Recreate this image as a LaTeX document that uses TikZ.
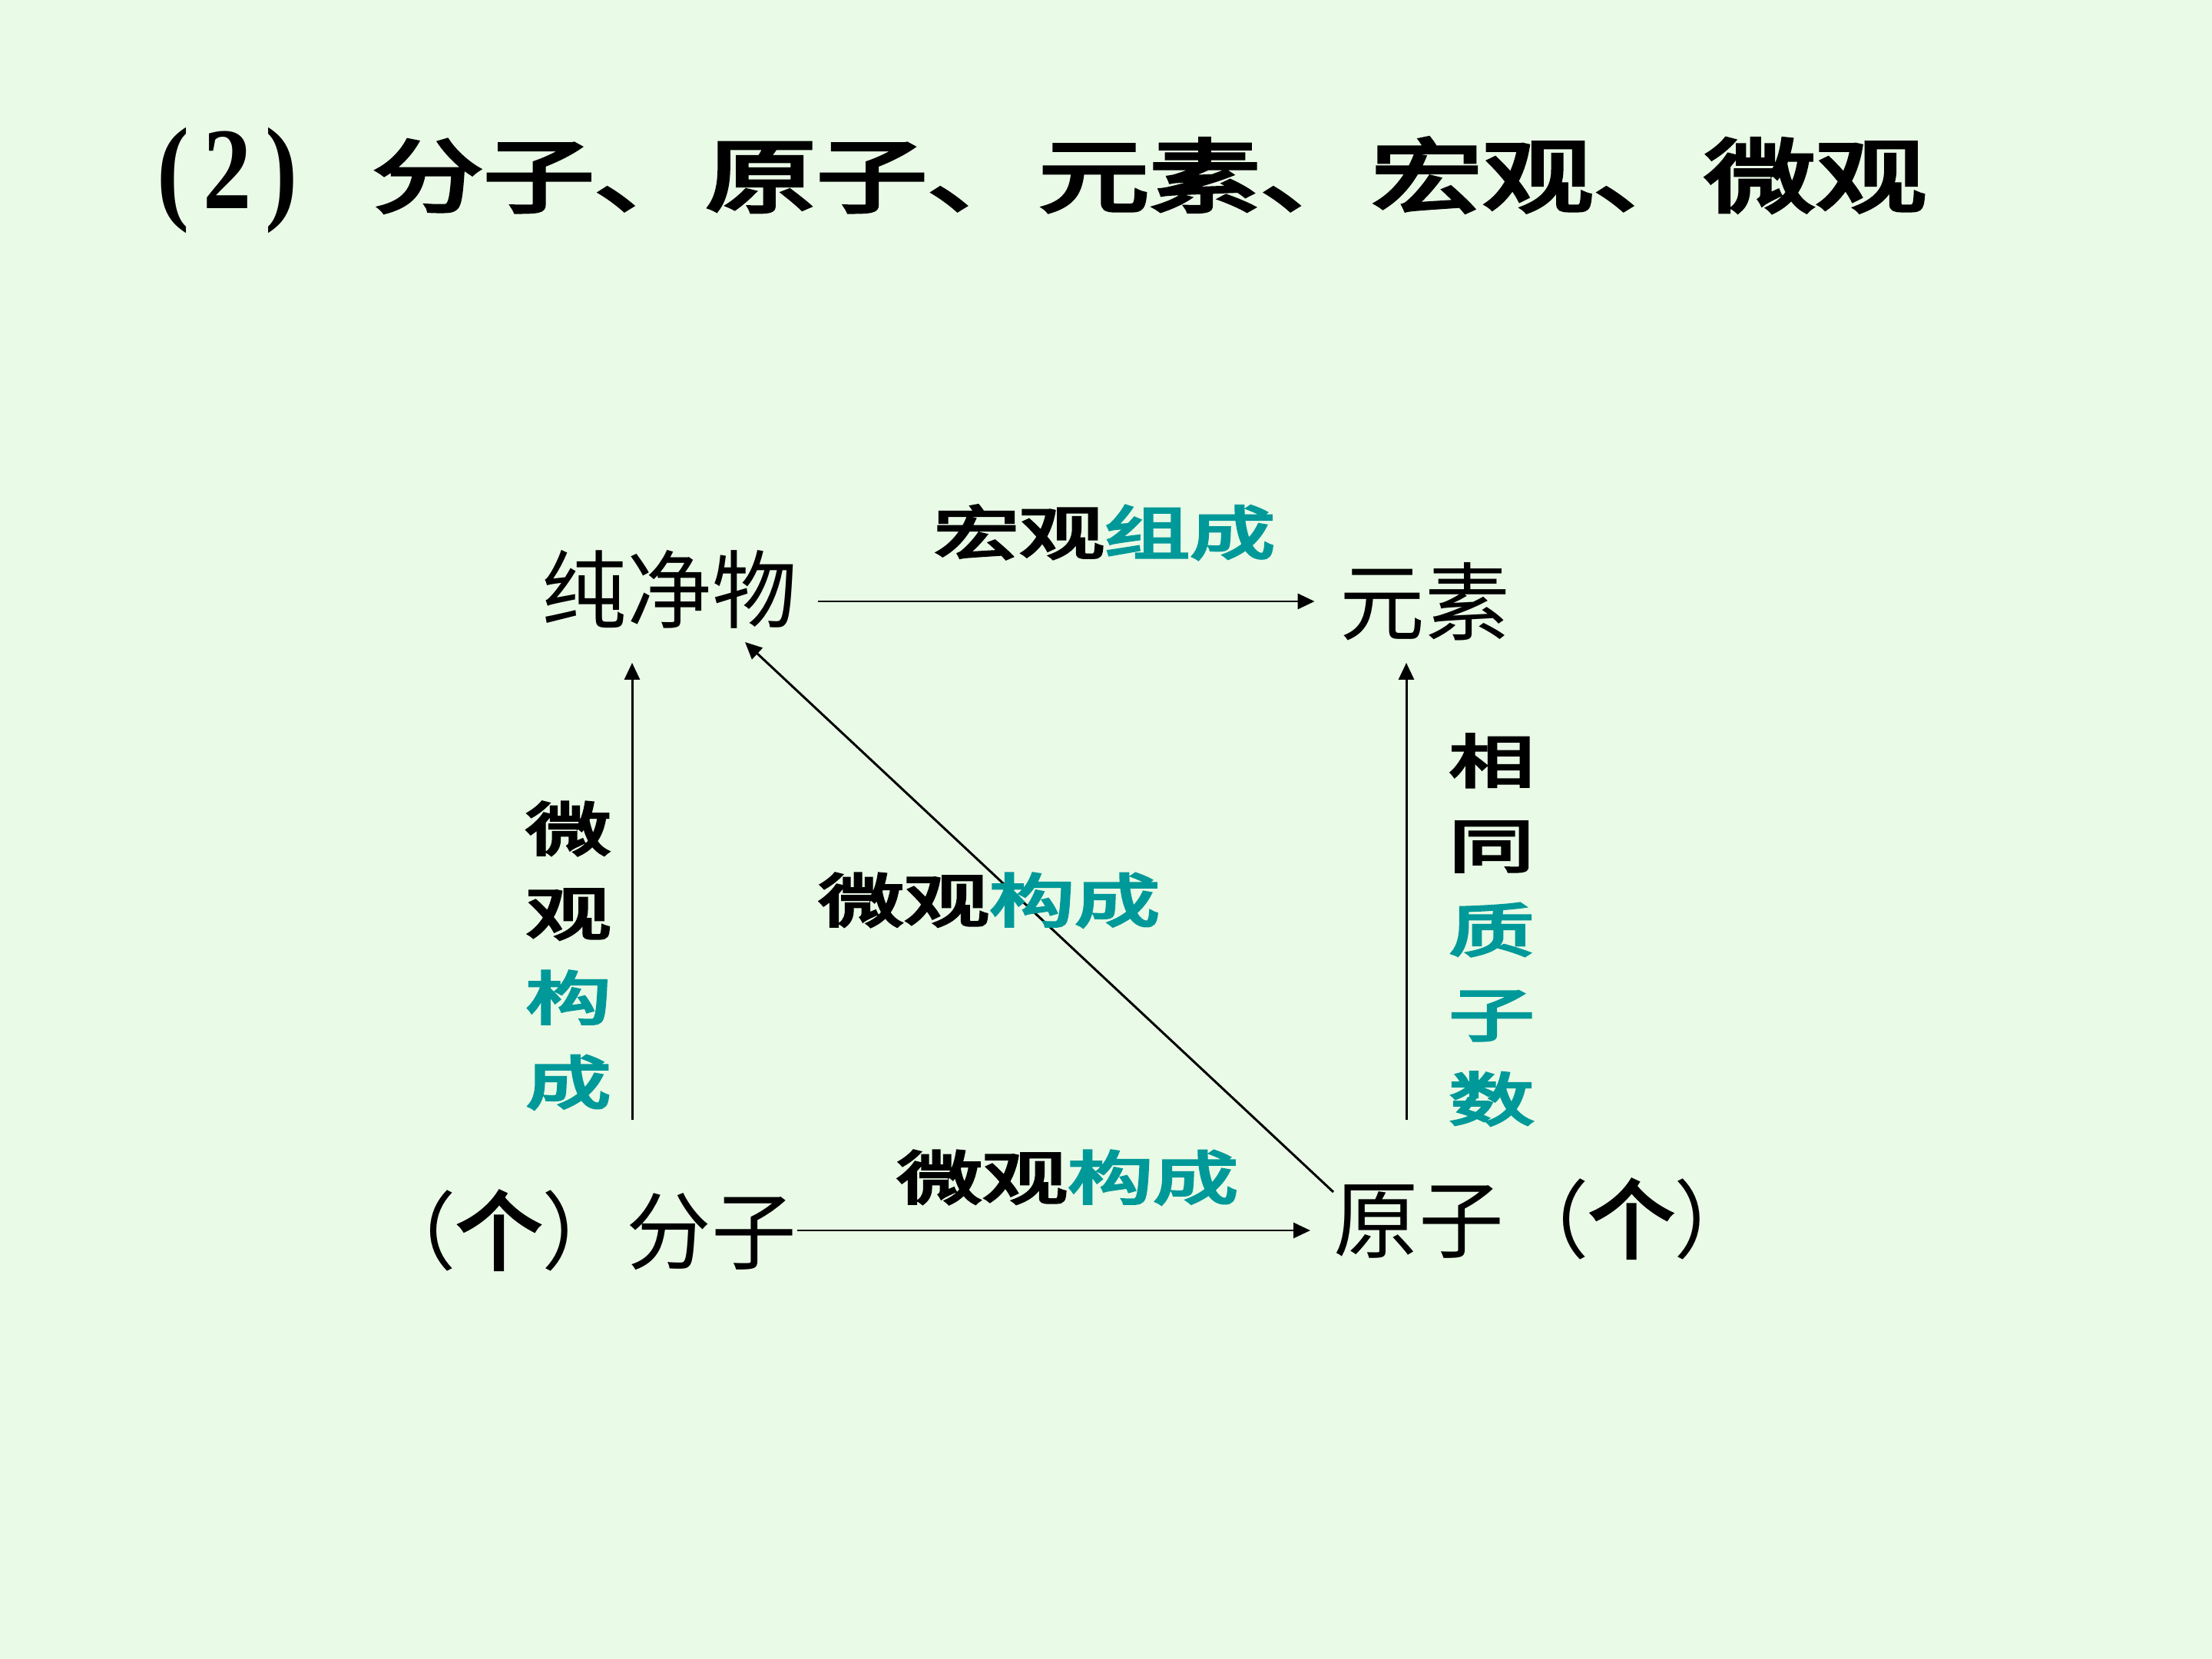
\documentclass[tikz,border=0pt]{standalone}
\usepackage{fontspec}
\usepackage{graphicx}
\usetikzlibrary{arrows.meta}
\setmainfont{Liberation Serif}
\newfontfamily\cjk{Noto Sans CJK SC}
\newfontfamily\cjkb[FakeBold=4]{Noto Sans CJK SC}
\definecolor{bg}{RGB}{233,250,230}
\definecolor{tealc}{RGB}{0,153,153}
\newcommand\wide[1]{\scalebox{1.47}[1]{#1}}
\tikzset{
  mainlab/.style={inner sep=0pt, font=\cjk\fontsize{31.5}{36}\selectfont},
  edgelab/.style={inner sep=0pt, align=center, font=\cjkb\fontsize{21.5}{31.3}\selectfont},
  arr/.style={-{Triangle[length=0.22cm,width=0.2cm]}, line width=0.85pt, black}
}
\begin{document}
\begin{tikzpicture}
\fill[bg] (0,0) rectangle (28.8,-21.6);
\useasboundingbox (0,0) rectangle (28.8,-21.6);

% title
\node[anchor=west, inner sep=0pt, font=\bfseries\fontsize{40}{44}\selectfont] (t1) at (2.04,-2.35) {\scalebox{0.9}[1.08]{(\kern0.14em2\kern0.14em)}};
\node[anchor=west, inner sep=0pt, font=\cjkb\fontsize{29.8}{34}\selectfont] (t2) at (4.84,-2.28) {\scalebox{1.38}[1]{分子、原子、元素、宏观、微观}};

% main nodes
\node[mainlab] (cjw) at (8.72,-7.67) {纯净物};
\node[mainlab] (ys) at (18.55,-7.83) {元素};
\node[mainlab, anchor=east] (fz) at (10.38,-16.02) {（{\cjkb 个}）分子};
\node[mainlab, anchor=west] (yz) at (17.36,-15.87) {原子（{\cjkb 个}）};

% connector end points
\coordinate (lb) at (8.23,-14.58);
\coordinate (lt) at (8.23,-8.63);
\coordinate (rb) at (18.31,-14.58);
\coordinate (rt) at (18.31,-8.63);
\coordinate (d1) at (17.36,-15.52);
\coordinate (d2) at (9.70,-8.36);

% connectors
\draw[arr, shorten <=0.265cm, shorten >=0.32cm] (cjw.east |- ys.west) -- (ys.west);
\draw[arr, shorten >=0.3cm] (fz.east) -- (fz.east -| yz.west);
\draw[arr] (lb) -- (lt);
\draw[arr] (rb) -- (rt);
\draw[arr] (d1) -- (d2);

% labels
\node[edgelab] (lab1) at (14.38,-6.93) {\wide{宏观}{\color{tealc}\wide{组成}}};
\node[edgelab] (lab2) at (12.88,-11.72) {\wide{微观}{\color{tealc}\wide{构成}}};
\node[edgelab] (lab3) at (13.90,-15.33) {\wide{微观}{\color{tealc}\wide{构成}}};
\node[edgelab] (lab4) at (7.40,-12.44) {\wide{微}\\\wide{观}\\{\color{tealc}\wide{构}}\\{\color{tealc}\wide{成}}};
\node[edgelab] (lab5) at (19.42,-12.105) {\wide{相}\\\wide{同}\\{\color{tealc}\wide{质}}\\{\color{tealc}\wide{子}}\\{\color{tealc}\wide{数}}};
\end{tikzpicture}
\end{document}
